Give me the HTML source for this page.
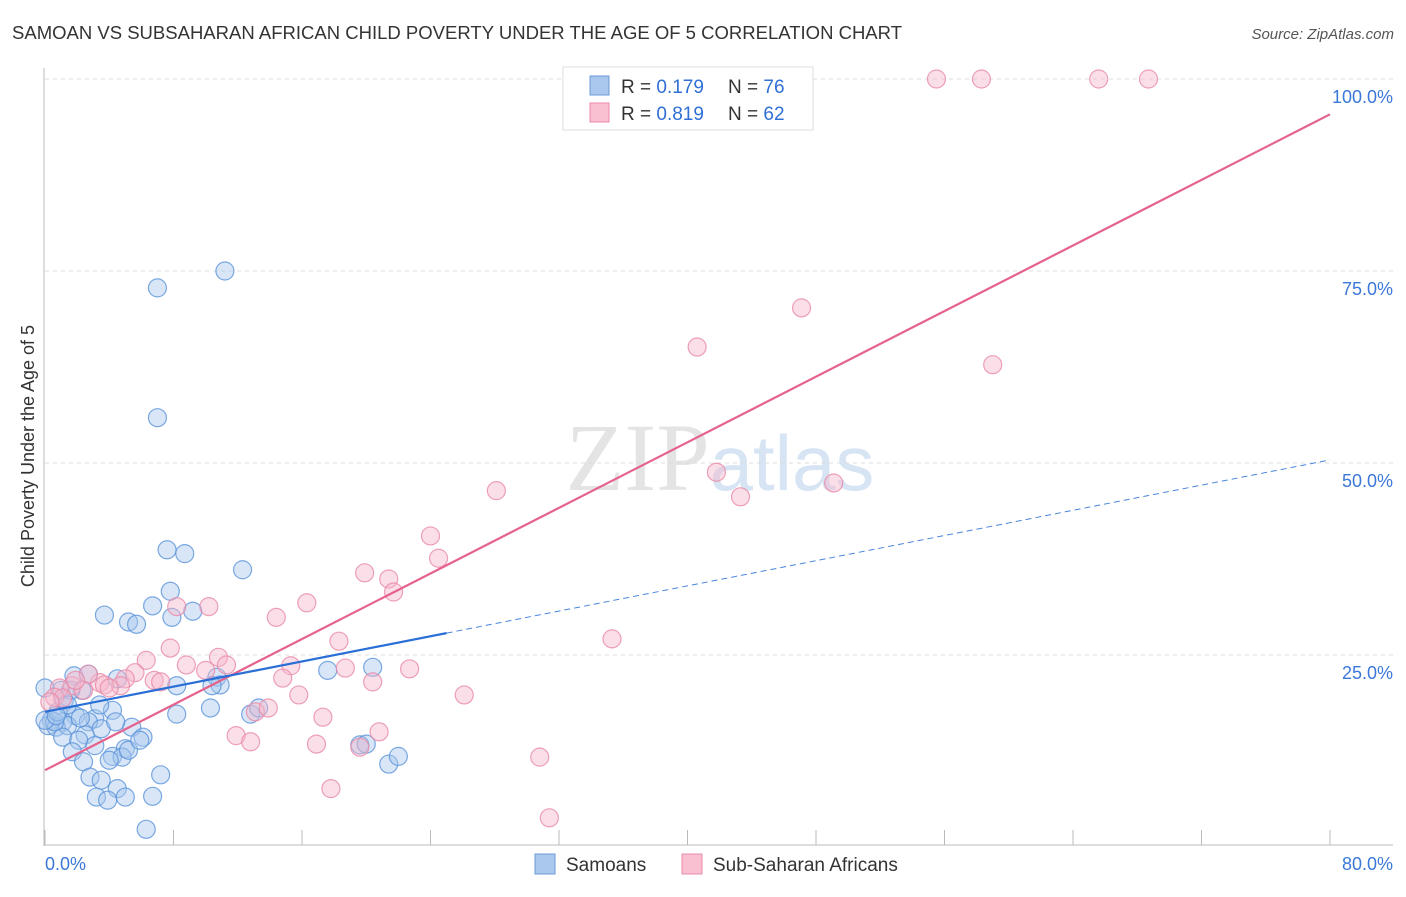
<!DOCTYPE html>
<html><head><meta charset="utf-8"><style>
body{margin:0;background:#fff;font-family:"Liberation Sans",sans-serif;}
</style></head><body>
<svg id="c" width="1406" height="892" xmlns="http://www.w3.org/2000/svg" style="font-family:'Liberation Sans',sans-serif">
<text x="12" y="39" font-size="18" fill="#333" textLength="890" lengthAdjust="spacingAndGlyphs">SAMOAN VS SUBSAHARAN AFRICAN CHILD POVERTY UNDER THE AGE OF 5 CORRELATION CHART</text>
<text x="1394" y="39" font-size="15" fill="#555" font-style="italic" text-anchor="end">Source: ZipAtlas.com</text>
<text x="720" y="490" font-size="96" fill="#e4e4e4" text-anchor="middle" font-family="Liberation Serif,serif">ZIP<tspan fill="#d6e4f4" font-family="Liberation Sans,sans-serif" font-size="78">atlas</tspan></text>
<text transform="translate(34,456) rotate(-90)" font-size="18" fill="#333" text-anchor="middle">Child Poverty Under the Age of 5</text>
<g id="grid"></g><g id="marks"></g>
<g>
<rect x="563" y="67" width="250" height="63" fill="#fff" stroke="#ddd"/>
<rect x="590" y="76" width="19" height="19" fill="#aac8ee" stroke="#6c9ad6"/>
<rect x="590" y="103" width="19" height="19" fill="#f8c0d1" stroke="#e98aa8"/>
<text x="621" y="93" font-size="19" fill="#333">R = <tspan fill="#2f6fd6">0.179</tspan></text>
<text x="728" y="93" font-size="19" fill="#333">N = <tspan fill="#2f6fd6">76</tspan></text>
<text x="621" y="120" font-size="19" fill="#333">R = <tspan fill="#2f6fd6">0.819</tspan></text>
<text x="728" y="120" font-size="19" fill="#333">N = <tspan fill="#2f6fd6">62</tspan></text>
</g>
<g>
<rect x="535" y="854" width="20" height="20" fill="#aac8ee" stroke="#6c9ad6"/>
<text x="566" y="871" font-size="19" fill="#333">Samoans</text>
<rect x="682" y="854" width="20" height="20" fill="#f8c0d1" stroke="#e98aa8"/>
<text x="713" y="871" font-size="19" fill="#333">Sub-Saharan Africans</text>
</g>
</svg>
<script>
const blueX=[11.2,7.0,7.0,7.6,8.7,12.3,7.8,6.7,3.7,5.2,5.7,7.9,9.2,1.8,2.7,4.5,10.7,10.9,10.4,8.2,1.0,2.3,1.2,4.2,10.3,8.2,12.8,13.3,17.6,20.4,1.9,3.1,0.4,1.1,0.2,0.7,1.4,2.7,3.5,5.4,2.5,1.1,2.1,3.1,5.0,6.1,4.2,4.8,5.2,1.7,2.4,4.0,7.2,2.8,3.5,4.5,5.0,3.2,3.9,6.7,6.3,19.6,20.0,21.4,22.0,0,0.6,1.6,3.4,0,0.8,1.4,0.7,2.2,4.4,5.9];
const blueY=[75.0,72.8,55.9,38.7,38.2,36.1,33.3,31.4,30.2,29.3,29.0,29.9,30.7,22.3,22.5,21.9,22.1,21.1,21.0,21.0,20.4,20.4,19.1,17.8,18.1,17.3,17.3,18.1,23.0,23.4,17.1,16.7,16.5,16.3,15.8,15.6,15.8,16.3,15.4,15.6,14.6,14.3,13.9,13.2,12.8,14.3,11.8,11.7,12.6,12.4,11.1,11.3,9.4,9.1,8.7,7.6,6.5,6.5,6.1,6.6,2.3,13.3,13.4,10.8,11.8,20.7,16.3,20.4,18.5,16.5,17.6,18.5,17.1,16.8,16.3,13.9];
const pinkX=[55.5,58.3,65.6,68.7,47.1,40.6,59.0,41.8,43.3,49.1,28.1,24.0,24.5,19.9,21.4,21.7,16.3,10.2,8.2,14.4,35.3,18.3,7.8,6.3,10.8,11.3,8.8,10.0,15.3,18.7,22.7,14.8,5.6,6.8,7.2,5.0,4.7,3.4,2.7,1.7,2.4,0.9,0.6,3.7,15.8,20.4,26.1,13.1,13.9,17.3,11.9,12.8,16.9,20.8,19.6,30.8,17.8,31.4,1.1,0.3,1.9,4.0];
const pinkY=[100,100,100,100,70.2,65.1,62.8,48.8,45.6,47.4,46.4,40.5,37.6,35.7,34.9,33.2,31.8,31.3,31.3,29.9,27.1,26.8,25.9,24.3,24.7,23.7,23.7,23.0,23.6,23.3,23.2,22.0,22.7,21.7,21.5,21.9,21.0,21.4,22.5,21.0,20.4,20.7,19.5,21.1,19.8,21.5,19.8,17.6,18.1,16.9,14.5,13.7,13.4,15.0,13.0,11.7,7.6,3.8,19.4,18.9,21.7,20.7];
const blueLine=[17.6,50.4]; const blueSolidEnd=25.0;
const pinkLine=[10.0,95.4];
const yTicks=[25,50,75,100]; const yTickLabels=["25.0%","50.0%","75.0%","100.0%"];
const xTicks=[0,8,16,24,32,40,48,56,64,72,80];

const NS="http://www.w3.org/2000/svg";
const sx=v=>45+v*1285/80, sy=v=>847-v*7.68;
function mk(t,a,p){const e=document.createElementNS(NS,t);for(const k in a)e.setAttribute(k,a[k]);p.appendChild(e);return e;}
const g=document.getElementById('grid'), m=document.getElementById('marks');
yTicks.forEach((t,i)=>{
 const l=mk('line',{x1:45,x2:1393,y1:sy(t),y2:sy(t),stroke:'#ddd','stroke-dasharray':'4,4'},g);
 
 
 const tx=mk('text',{x:1393,y:sy(t)+24,'font-size':18,fill:'#3b78d8','text-anchor':'end'},g);tx.textContent=yTickLabels[i];
 
 
});
const ax=mk('line',{x1:44,x2:44,y1:68,y2:846,stroke:'#bbb'},g);


const bx=mk('line',{x1:44,x2:1393,y1:845,y2:845,stroke:'#bbb'},g);


xTicks.forEach(t=>{const l=mk('line',{x1:sx(t),x2:sx(t),y1:830,y2:845,stroke:'#bbb'},g);
 
 });
const x0=mk('text',{x:45,y:870,'font-size':18,fill:'#3b78d8'},g);x0.textContent='0.0%';


const x1=mk('text',{x:1393,y:870,'font-size':18,fill:'#3b78d8','text-anchor':'end'},g);x1.textContent='80.0%';


function dots(X,Y,fill,stroke,name){X.forEach((x,i)=>{const c=mk('circle',{cx:sx(x),cy:sy(Y[i]),r:9,fill:fill,'fill-opacity':0.45,stroke:stroke,'stroke-opacity':0.8,'stroke-width':1.2},m);
 
 });}
dots(blueX,blueY,'#a9c8ee','#5b93d9','point-samoan');
dots(pinkX,pinkY,'#f6b7cb','#e98aa8','point-subsaharan');
const bl=v=>blueLine[0]+(blueLine[1]-blueLine[0])*v/80;
const pl=mk('line',{x1:sx(0),y1:sy(pinkLine[0]),x2:sx(80),y2:sy(pinkLine[1]),stroke:'#e5628c','stroke-width':2.2},m);


const b1=mk('line',{x1:sx(0),y1:sy(bl(0)),x2:sx(blueSolidEnd),y2:sy(bl(blueSolidEnd)),stroke:'#2a6fd6','stroke-width':2.2},m);


const b2=mk('line',{x1:sx(blueSolidEnd),y1:sy(bl(blueSolidEnd)),x2:sx(80),y2:sy(bl(80)),stroke:'#4a86dc','stroke-width':1,'stroke-dasharray':'6,4'},m);


</script>
</body></html>
